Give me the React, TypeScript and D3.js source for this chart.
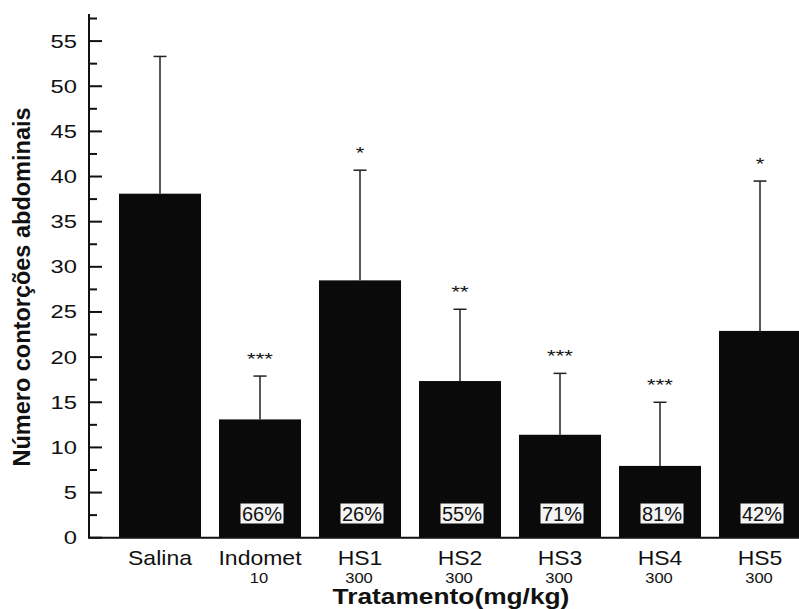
import React from "react";
import * as d3 from "d3";

const categories = ["Salina", "Indomet", "HS1", "HS2", "HS3", "HS4", "HS5"];
const doses = ["", "10", "300", "300", "300", "300", "300"];
const means = [38.1, 13.1, 28.5, 17.35, 11.4, 7.95, 22.9];
const errTops = [53.3, 17.9, 40.7, 25.3, 18.2, 15.0, 39.5];
const stars = ["", "***", "*", "**", "***", "***", "*"];
const inhibition = ["", "66%", "26%", "55%", "71%", "81%", "42%"];
const yTicks = [0, 5, 10, 15, 20, 25, 30, 35, 40, 45, 50, 55];
const yMinorTicks = [2.5, 7.5, 12.5, 17.5, 22.5, 27.5, 32.5, 37.5, 42.5, 47.5, 52.5, 57.5];

const W = 799;
const H = 609;
const axisX = 89;

export default function App() {
  const x = d3
    .scaleBand<string>()
    .domain(categories)
    .range([110, 810])
    .paddingInner(0.18)
    .paddingOuter(0.09);

  const y = d3.scaleLinear().domain([0, 58]).range([537.7, 14]);
  const bw = x.bandwidth();
  const font = "'Liberation Sans', Arial, sans-serif";

  return (
    <svg
      width={W}
      height={H}
      style={{ position: "absolute", left: 0, top: 0, background: "#fff" }}
      fontFamily={font}
    >
      {/* bars */}
      {categories.map((c, i) => (
        <rect
          key={"b" + c}
          x={x(c)}
          y={y(means[i])}
          width={bw}
          height={y(0) - y(means[i])}
          fill="#0a0a0a"
        />
      ))}

      {/* upper error bars */}
      {categories.map((c, i) => {
        const cx = (x(c) as number) + bw / 2;
        return (
          <g key={"e" + c} stroke="#222" strokeWidth={1.5}>
            <line x1={cx} x2={cx} y1={y(means[i])} y2={y(errTops[i])} />
            <line x1={cx - 6.5} x2={cx + 6.5} y1={y(errTops[i])} y2={y(errTops[i])} />
          </g>
        );
      })}

      {/* significance stars */}
      {categories.map((c, i) =>
        stars[i] ? (
          <text
            key={"s" + c}
            transform={`translate(${(x(c) as number) + bw / 2},${y(errTops[i]) - 11}) scale(1.3,1)`}
            textAnchor="middle"
            fontSize={17}
            fill="#111"
          >
            {stars[i]}
          </text>
        ) : null
      )}

      {/* inhibition labels */}
      {categories.map((c, i) =>
        inhibition[i] ? (
          <g key={"p" + c} transform={`translate(${(x(c) as number) + bw / 2 + 2},513.5)`}>
            <rect x={-21.5} y={-10} width={43} height={20} fill="#f4f4f4" />
            <text textAnchor="middle" dy="0.37em" fontSize={20} fill="#111">
              {inhibition[i]}
            </text>
          </g>
        ) : null
      )}

      {/* axes */}
      <line x1={axisX} x2={W} y1={y(0)} y2={y(0)} stroke="#111" strokeWidth={2} />
      <line x1={axisX} x2={axisX} y1={14} y2={y(0) + 1} stroke="#111" strokeWidth={2} />
      {yTicks.map((t) => (
        <g key={"t" + t}>
          <line x1={axisX} x2={axisX + 13} y1={y(t)} y2={y(t)} stroke="#111" strokeWidth={2} />
          <text
            transform={`translate(77,${y(t)}) scale(1.32,1)`}
            textAnchor="end"
            dy="0.36em"
            fontSize={18}
            fill="#111"
          >
            {t}
          </text>
        </g>
      ))}
      {yMinorTicks.map((t) => (
        <line key={"m" + t} x1={axisX} x2={axisX + 8} y1={y(t)} y2={y(t)} stroke="#111" strokeWidth={2} />
      ))}

      {/* category labels */}
      {categories.map((c, i) => {
        const cx = (x(c) as number) + bw / 2;
        return (
          <g key={"c" + c}>
            <text
              transform={`translate(${cx},565) scale(1.15,1)`}
              textAnchor="middle"
              fontSize={20}
              fill="#111"
            >
              {c}
            </text>
            {doses[i] ? (
              <text
                transform={`translate(${cx - 1},583) scale(1.18,1)`}
                textAnchor="middle"
                fontSize={14}
                fill="#111"
              >
                {doses[i]}
              </text>
            ) : null}
          </g>
        );
      })}

      {/* axis titles */}
      <text
        transform="translate(451,604) scale(1.17,1)"
        textAnchor="middle"
        fontSize={22.5}
        fontWeight="bold"
        fill="#111"
      >
        Tratamento(mg/kg)
      </text>
      <text
        transform="translate(30,287) rotate(-90)"
        textAnchor="middle"
        fontSize={23.5}
        fontWeight="bold"
        fill="#111"
      >
        Número contorções abdominais
      </text>
    </svg>
  );
}
